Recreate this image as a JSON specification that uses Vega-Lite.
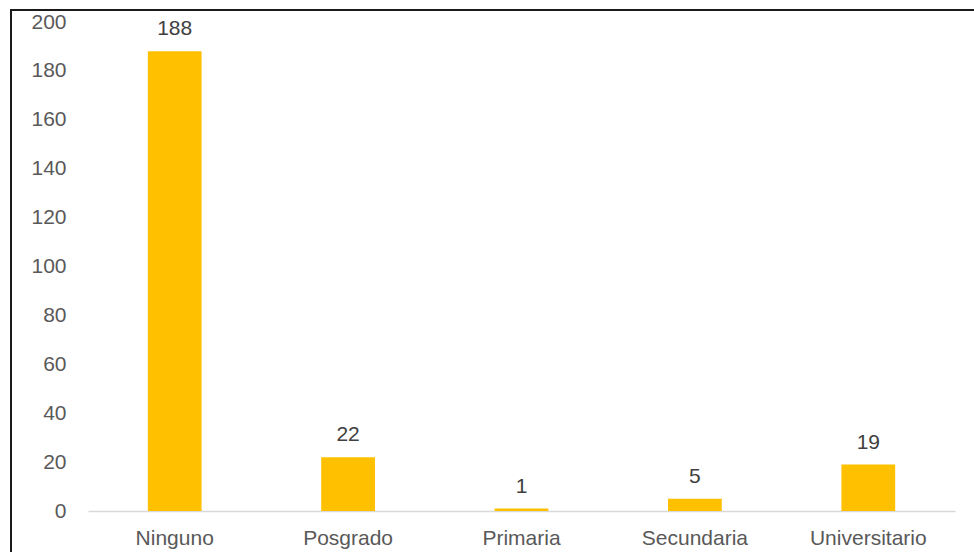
{
  "$schema": "https://vega.github.io/schema/vega-lite/v6.json",
  "autosize": "none",
  "width": 974,
  "height": 552,
  "padding": {"left": 11, "top": 10, "right": 0, "bottom": 0},
  "background": "white",
  "config": {
    "view": {"stroke": "#1a1a1a", "strokeWidth": 2},
    "font": "Liberation Sans"
  },
  "data": {
    "values": [
      {"nivel": "Ninguno", "n": 188},
      {"nivel": "Posgrado", "n": 22},
      {"nivel": "Primaria", "n": 1},
      {"nivel": "Secundaria", "n": 5},
      {"nivel": "Universitario", "n": 19}
    ]
  },
  "encoding": {
    "x": {
      "field": "nivel",
      "type": "nominal",
      "sort": null,
      "scale": {"range": [77, 944], "paddingInner": 0.69, "paddingOuter": 0.345},
      "axis": {
        "title": null,
        "orient": "bottom",
        "offset": -51,
        "labelAngle": 0,
        "ticks": false,
        "domainColor": "#d9d9d9",
        "domainWidth": 1.5,
        "labelColor": "#595959",
        "labelFont": "Liberation Sans",
        "labelFontSize": 21,
        "labelPadding": 16,
        "grid": false
      }
    },
    "y": {
      "field": "n",
      "type": "quantitative",
      "scale": {"domain": [0, 200], "range": [501, 12], "nice": false},
      "axis": {
        "title": null,
        "orient": "left",
        "offset": -55,
        "values": [0, 20, 40, 60, 80, 100, 120, 140, 160, 180, 200],
        "domain": false,
        "ticks": false,
        "grid": false,
        "labelColor": "#595959",
        "labelFont": "Liberation Sans",
        "labelFontSize": 21,
        "labelPadding": 0
      }
    }
  },
  "layer": [
    {"mark": {"type": "bar", "color": "#FFC000"}},
    {
      "mark": {
        "type": "text",
        "baseline": "alphabetic",
        "dy": -16,
        "fontSize": 21,
        "font": "Liberation Sans",
        "color": "#404040"
      },
      "encoding": {"text": {"field": "n", "type": "quantitative"}}
    }
  ]
}
